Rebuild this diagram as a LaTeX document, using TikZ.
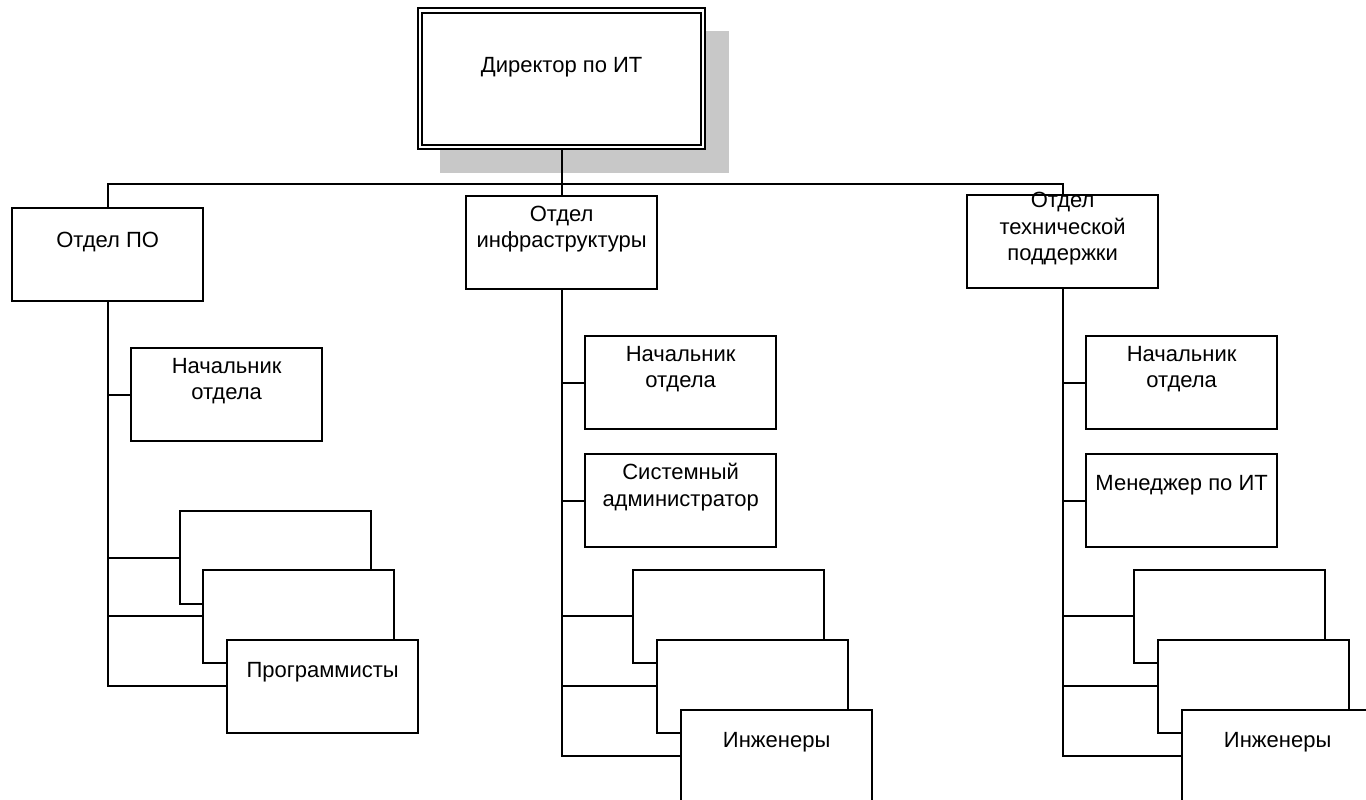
\documentclass[tikz,border=0pt]{standalone}
\usepackage{fontspec}
\setmainfont{Liberation Sans}
\definecolor{shadowgray}{RGB}{200,200,200}
\tikzset{
  box/.style={draw=black, fill=white, line width=2.3pt, minimum width=191pt, minimum height=93pt, inner sep=0pt, anchor=north west},
  lbl/.style={align=center, inner sep=0pt, font=\fontsize{22}{26.5}\selectfont},
  conn/.style={draw=black, line width=2pt}
}
\begin{document}
\begin{tikzpicture}[x=1pt,y=-1pt]
\clip (0,0) rectangle (1366,800);
\fill[white] (0,0) rectangle (1366,800);
% director
\node[fill=shadowgray, minimum width=289pt, minimum height=142pt, inner sep=0pt, anchor=north west] (dirsh) at (440,31) {};
\coordinate (bus) at (561,183.5);
\node[box, minimum width=287pt, minimum height=141pt] (dir) at (417,7) {};
\node[draw=black, line width=2.3pt, minimum width=279pt, minimum height=132pt, inner sep=0pt, anchor=north west] (dirin) at (421,12) {};
\node[lbl] (tdir) at ([yshift=-60pt]dir.north) {Директор по ИТ};

\node[box] (po) at (11,207) {};
\node[box] (inf) at (465,195) {};
\node[box] (tech) at (966,194) {};

\node[box] (n1) at (130,347) {};
\node[box] (n2) at (584,335) {};
\node[box] (sa) at (584,453) {};
\node[box] (n3) at (1085,335) {};
\node[box] (mgr) at (1085,453) {};

% connectors (before stacked boxes)
\coordinate (p1w) at (179,557.5);
\coordinate (p2w) at (202,615.5);
\coordinate (p3w) at (226,685.5);
\coordinate (e1w) at (632,615.5);
\coordinate (e2w) at (656,685.5);
\coordinate (e3w) at (680,755.5);
\coordinate (f1w) at (1133,615.5);
\coordinate (f2w) at (1157,685.5);
\coordinate (f3w) at (1181,755.5);
\path[conn] (dir.south) -- (inf.north);
\path[conn] (po.north) |- (bus) -| (tech.north);
\path[conn] (po.south) |- (p3w);
\path[conn] (po.south |- n1.west) -- (n1.west);
\path[conn] (po.south |- p1w) -- (p1w);
\path[conn] (po.south |- p2w) -- (p2w);
\path[conn] (inf.south) |- (e3w);
\path[conn] (inf.south |- n2.west) -- (n2.west);
\path[conn] (inf.south |- sa.west) -- (sa.west);
\path[conn] (inf.south |- e1w) -- (e1w);
\path[conn] (inf.south |- e2w) -- (e2w);
\path[conn] (tech.south) |- (f3w);
\path[conn] (tech.south |- n3.west) -- (n3.west);
\path[conn] (tech.south |- mgr.west) -- (mgr.west);
\path[conn] (tech.south |- f1w) -- (f1w);
\path[conn] (tech.south |- f2w) -- (f2w);

% stacked boxes
\node[box] (p1) at (179,510) {};
\node[box] (p2) at (202,569) {};
\node[box] (p3) at (226,639) {};
\node[box] (e1) at (632,569) {};
\node[box] (e2) at (656,639) {};
\node[box] (e3) at (680,709) {};
\node[box] (f1) at (1133,569) {};
\node[box] (f2) at (1157,639) {};
\node[box] (f3) at (1181,709) {};

% labels
\node[lbl] (tpo) at ([yshift=-35pt]po.north) {Отдел ПО};
\node[lbl] (tinf) at ([yshift=-34pt]inf.north) {Отдел\\инфраструктуры};
\node[lbl] (ttech) at ([yshift=-35pt]tech.north) {Отдел\\технической\\поддержки};
\node[lbl] (tn1) at ([yshift=-34pt]n1.north) {Начальник\\отдела};
\node[lbl] (tn2) at ([yshift=-34pt]n2.north) {Начальник\\отдела};
\node[lbl] (tsa) at ([yshift=-34pt]sa.north) {Системный\\администратор};
\node[lbl] (tn3) at ([yshift=-34pt]n3.north) {Начальник\\отдела};
\node[lbl] (tmgr) at ([yshift=-32pt]mgr.north) {Менеджер по ИТ};
\node[lbl] (tp3) at ([yshift=-33pt]p3.north) {Программисты};
\node[lbl] (te3) at ([yshift=-33pt]e3.north) {Инженеры};
\node[lbl] (tf3) at ([yshift=-33pt]f3.north) {Инженеры};
\end{tikzpicture}
\end{document}
